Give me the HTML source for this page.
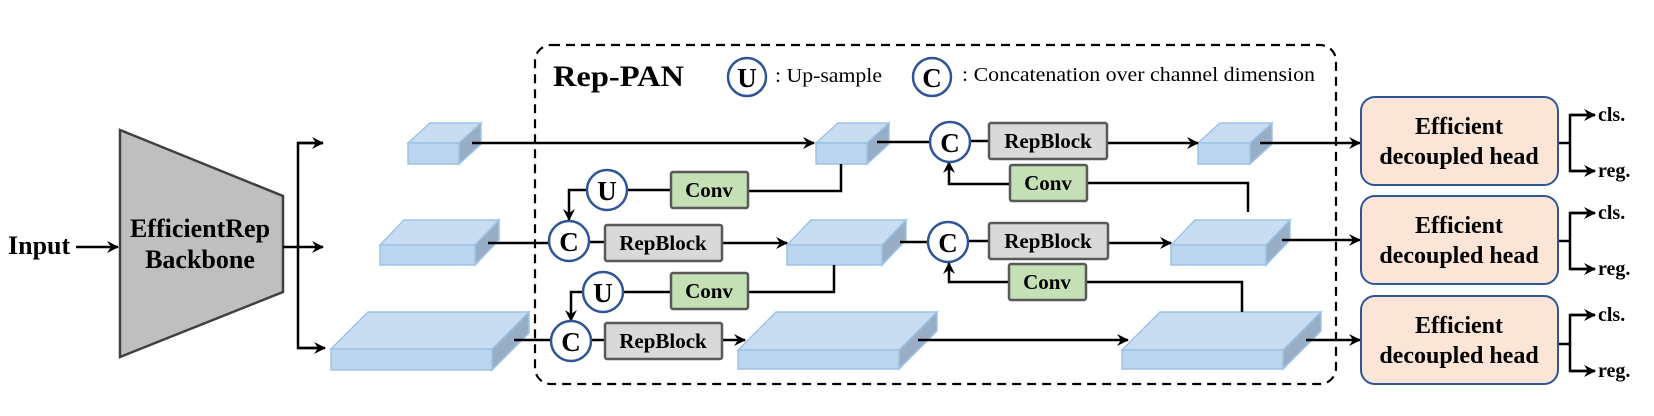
<!DOCTYPE html>
<html><head><meta charset="utf-8"><style>
html,body{margin:0;padding:0;background:#fff;}
svg{display:block;}
text{font-family:"Liberation Serif",serif;}
</style></head><body>
<svg width="1654" height="416" viewBox="0 0 1654 416" xmlns="http://www.w3.org/2000/svg">
<defs>
<marker id="a" viewBox="0 0 12 12" refX="11" refY="6" markerWidth="12" markerHeight="12" markerUnits="userSpaceOnUse" orient="auto">
<path d="M0,0 L12,6 L0,12 L4,6 z" fill="#000"/>
</marker>
</defs>
<g fill="none" stroke="#000" stroke-width="2.5">
<rect x="535" y="45" width="801" height="339" rx="16" stroke-dasharray="9,6" stroke-width="2.2"/>
</g>
<polygon points="120,130 283,196 283,292 120,357" fill="#bfbfbf" stroke="#404040" stroke-width="2.5"/>
<text x="200" y="237" font-size="26" font-weight="bold" text-anchor="middle">EfficientRep</text>
<text x="200" y="268" font-size="26" font-weight="bold" text-anchor="middle">Backbone</text>
<text x="8" y="254" font-size="26" font-weight="bold">Input</text>

<g stroke="#9dc3e6" stroke-width="1.5">
<polygon points="408,143 430,123 481,123 459,143" fill="#c9ddf2"/><polygon points="459,143 481,123 481,144 459,164" fill="#97aec6"/><rect x="408" y="143" width="51" height="21" fill="#bcd5ee"/>
<polygon points="816,143 838,123 889,123 867,143" fill="#c9ddf2"/><polygon points="867,143 889,123 889,144 867,164" fill="#97aec6"/><rect x="816" y="143" width="51" height="21" fill="#bcd5ee"/>
<polygon points="1198,143 1220,123 1272,123 1250,143" fill="#c9ddf2"/><polygon points="1250,143 1272,123 1272,144 1250,164" fill="#97aec6"/><rect x="1198" y="143" width="52" height="21" fill="#bcd5ee"/>
<polygon points="380,245 404,220 499,220 475,245" fill="#c9ddf2"/><polygon points="475,245 499,220 499,240 475,265" fill="#97aec6"/><rect x="380" y="245" width="95" height="20" fill="#bcd5ee"/>
<polygon points="787,245 811,220 906,220 882,245" fill="#c9ddf2"/><polygon points="882,245 906,220 906,240 882,265" fill="#97aec6"/><rect x="787" y="245" width="95" height="20" fill="#bcd5ee"/>
<polygon points="1171,245 1195,220 1290,220 1266,245" fill="#c9ddf2"/><polygon points="1266,245 1290,220 1290,240 1266,265" fill="#97aec6"/><rect x="1171" y="245" width="95" height="20" fill="#bcd5ee"/>
<polygon points="331,349 368,312 529,312 492,349" fill="#c9ddf2"/><polygon points="492,349 529,312 529,333 492,370" fill="#97aec6"/><rect x="331" y="349" width="161" height="21" fill="#bcd5ee"/>
<polygon points="738,350 776,312 937,312 899,350" fill="#c9ddf2"/><polygon points="899,350 937,312 937,331 899,369" fill="#97aec6"/><rect x="738" y="350" width="161" height="19" fill="#bcd5ee"/>
<polygon points="1122,350 1160,312 1321,312 1283,350" fill="#c9ddf2"/><polygon points="1283,350 1321,312 1321,331 1283,369" fill="#97aec6"/><rect x="1122" y="350" width="161" height="19" fill="#bcd5ee"/>
</g>

<g fill="none" stroke="#000" stroke-width="2.5">
<line x1="76" y1="247" x2="118" y2="247" marker-end="url(#a)"/>
<line x1="283" y1="247" x2="298" y2="247"/>
<polyline points="323,143 298,143 298,348 323,348"/>
<line x1="298" y1="143" x2="323" y2="143" marker-end="url(#a)"/>
<line x1="298" y1="247" x2="323" y2="247" marker-end="url(#a)"/>
<line x1="298" y1="348" x2="325" y2="348" marker-end="url(#a)"/>
<line x1="472" y1="143" x2="814" y2="143" marker-end="url(#a)"/>
<line x1="877" y1="142" x2="930" y2="142"/>
<line x1="970" y1="141" x2="989" y2="141"/>
<line x1="1107" y1="143" x2="1198" y2="143" marker-end="url(#a)"/>
<line x1="1260" y1="143" x2="1360" y2="143" marker-end="url(#a)"/>
<polyline points="841,164 841,191 748,191"/>
<line x1="671" y1="190" x2="627" y2="190"/>
<polyline points="587,190 569,190 569,220" marker-end="url(#a)"/>
<polyline points="1086,183 1248,183 1248,212"/>
<polyline points="1010,184 949,184 949,162" marker-end="url(#a)"/>
<line x1="488" y1="243" x2="549" y2="243"/>
<line x1="589" y1="242" x2="605" y2="242"/>
<line x1="722" y1="243" x2="787" y2="243" marker-end="url(#a)"/>
<line x1="900" y1="242" x2="928" y2="242"/>
<line x1="968" y1="241" x2="989" y2="241"/>
<line x1="1108" y1="243" x2="1171" y2="243" marker-end="url(#a)"/>
<line x1="1282" y1="240" x2="1360" y2="240" marker-end="url(#a)"/>
<polyline points="834,265 834,292 748,292"/>
<line x1="671" y1="292" x2="623" y2="292"/>
<polyline points="583,292 571,292 571,321" marker-end="url(#a)"/>
<polyline points="1086,282 1242,282 1242,312"/>
<polyline points="1010,282 949,282 949,263" marker-end="url(#a)"/>
<line x1="514" y1="340" x2="551" y2="340"/>
<line x1="591" y1="340" x2="605" y2="340"/>
<line x1="722" y1="340" x2="745" y2="340" marker-end="url(#a)"/>
<line x1="918" y1="340" x2="1128" y2="340" marker-end="url(#a)"/>
<line x1="1306" y1="340" x2="1360" y2="340" marker-end="url(#a)"/>
<line x1="1558" y1="143" x2="1570" y2="143"/>
<polyline points="1595,115 1570,115 1570,171 1595,171"/>
<line x1="1570" y1="115" x2="1595" y2="115" marker-end="url(#a)"/>
<line x1="1570" y1="171" x2="1595" y2="171" marker-end="url(#a)"/>
<line x1="1558" y1="241" x2="1570" y2="241"/>
<polyline points="1595,213 1570,213 1570,269 1595,269"/>
<line x1="1570" y1="213" x2="1595" y2="213" marker-end="url(#a)"/>
<line x1="1570" y1="269" x2="1595" y2="269" marker-end="url(#a)"/>
<line x1="1558" y1="344" x2="1570" y2="344"/>
<polyline points="1595,315 1570,315 1570,371 1595,371"/>
<line x1="1570" y1="315" x2="1595" y2="315" marker-end="url(#a)"/>
<line x1="1570" y1="371" x2="1595" y2="371" marker-end="url(#a)"/>
</g>

<g stroke="#595959" stroke-width="2.5">
<rect x="989" y="123" width="118" height="36" fill="#d9d9d9" rx="2"/>
<rect x="989" y="223" width="119" height="36" fill="#d9d9d9" rx="2"/>
<rect x="605" y="225" width="117" height="36" fill="#d9d9d9" rx="2"/>
<rect x="605" y="323" width="117" height="36" fill="#d9d9d9" rx="2"/>
<rect x="671" y="172" width="77" height="36" fill="#c5e0b4" rx="2"/>
<rect x="671" y="273" width="77" height="36" fill="#c5e0b4" rx="2"/>
<rect x="1010" y="165" width="77" height="36" fill="#c5e0b4" rx="2"/>
<rect x="1009" y="264" width="77" height="36" fill="#c5e0b4" rx="2"/>
</g>
<g font-size="21" font-weight="bold" text-anchor="middle">
<text x="1048" y="148">RepBlock</text>
<text x="1048" y="248">RepBlock</text>
<text x="663" y="250">RepBlock</text>
<text x="663" y="348">RepBlock</text>
<text x="709" y="197">Conv</text>
<text x="709" y="298">Conv</text>
<text x="1048" y="190">Conv</text>
<text x="1047" y="289">Conv</text>
</g>

<g fill="#fff" stroke="#2f5597" stroke-width="2.5">
<circle cx="950" cy="142" r="20"/><circle cx="948" cy="242" r="20"/>
<circle cx="569" cy="241" r="20"/><circle cx="571" cy="341" r="20"/>
<circle cx="607" cy="190" r="20"/><circle cx="603" cy="292" r="20"/>
<circle cx="747" cy="77" r="19"/><circle cx="932" cy="77" r="19"/>
</g>
<g font-size="27" font-weight="bold" text-anchor="middle">
<text x="950" y="152">C</text><text x="948" y="252">C</text>
<text x="569" y="251">C</text><text x="571" y="351">C</text>
<text x="607" y="200">U</text><text x="603" y="302">U</text>
<text x="747" y="87">U</text><text x="932" y="87">C</text>
</g>
<text x="553" y="86" font-size="30" font-weight="bold" textLength="131" lengthAdjust="spacingAndGlyphs">Rep-PAN</text>
<text x="775" y="82" font-size="20" textLength="107" lengthAdjust="spacingAndGlyphs">: Up-sample</text>
<text x="962" y="81" font-size="20" textLength="353" lengthAdjust="spacingAndGlyphs">: Concatenation over channel dimension</text>

<g fill="#fbe5d6" stroke="#2f5597" stroke-width="2">
<rect x="1361" y="97" width="197" height="88" rx="14"/>
<rect x="1361" y="196" width="197" height="88" rx="14"/>
<rect x="1361" y="296" width="197" height="88" rx="14"/>
</g>
<g font-size="24" font-weight="bold" text-anchor="middle">
<text x="1459" y="134">Efficient</text><text x="1459" y="164">decoupled head</text>
<text x="1459" y="233">Efficient</text><text x="1459" y="263">decoupled head</text>
<text x="1459" y="333">Efficient</text><text x="1459" y="363">decoupled head</text>
</g>
<g font-size="20" font-weight="bold">
<text x="1598" y="121">cls.</text><text x="1598" y="177">reg.</text>
<text x="1598" y="219">cls.</text><text x="1598" y="275">reg.</text>
<text x="1598" y="321">cls.</text><text x="1598" y="377">reg.</text>
</g>
</svg>
</body></html>
